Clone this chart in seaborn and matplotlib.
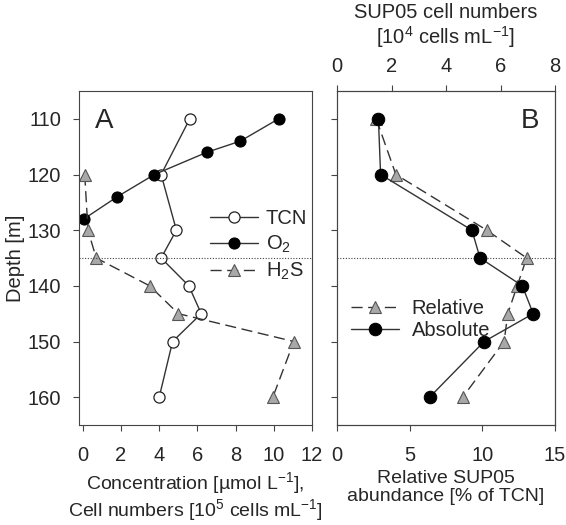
import matplotlib
matplotlib.use("Agg")
import matplotlib.pyplot as plt
import seaborn as sns
import pandas as pd

# ---- data ----
tcn_depth = [110, 120, 130, 135, 140, 145, 150, 160]
tcn_vals = [5.6, 4.1, 4.9, 4.1, 5.55, 6.2, 4.7, 4.0]
o2_depth = [110, 114, 116, 120, 124, 128]
o2_vals = [10.25, 8.25, 6.5, 3.75, 1.8, 0.05]
h2s_depth = [120, 130, 135, 140, 145, 150, 160]
h2s_vals = [0.1, 0.27, 0.7, 3.5, 5.0, 11.05, 9.95]
sup_depth = [110, 120, 130, 135, 140, 145, 150, 160]
rel_vals = [2.7, 4.05, 10.3, 13.05, 12.4, 11.75, 11.5, 8.65]
abs_vals = [1.52, 1.6, 4.95, 5.25, 6.8, 7.2, 5.4, 3.4]
redox_depth = 135

sns.set_style("ticks")
plt.rcParams["font.family"] = ["Liberation Sans", "DejaVu Sans"]
plt.rcParams["mathtext.fontset"] = "custom"
plt.rcParams["mathtext.rm"] = "Liberation Sans"
plt.rcParams["mathtext.it"] = "Liberation Sans:italic"
plt.rcParams["mathtext.bf"] = "Liberation Sans:bold"
plt.rcParams["xtick.direction"] = "out"
plt.rcParams["ytick.direction"] = "out"

fig = plt.figure(figsize=(5.66, 5.25), dpi=100)
axA = fig.add_axes([79/566, 100/525, 233/566, 334/525])
axB = fig.add_axes([337/566, 100/525, 218/566, 334/525])

lc = "#333333"
gray = "#a8a8a8"
fs = 14.5
lfs = 14

dfT = pd.DataFrame({"x": tcn_vals, "y": tcn_depth})
dfO = pd.DataFrame({"x": o2_vals, "y": o2_depth})
dfH = pd.DataFrame({"x": h2s_vals, "y": h2s_depth})

sns.lineplot(data=dfT, x="x", y="y", sort=False, estimator=None, ax=axA,
             color=lc, lw=1, marker="o", markersize=8, markerfacecolor="white",
             markeredgecolor="#222222", markeredgewidth=0.9, label="TCN")
sns.lineplot(data=dfO, x="x", y="y", sort=False, estimator=None, ax=axA,
             color=lc, lw=1, marker="o", markersize=8, markerfacecolor="black",
             markeredgecolor="black", label="O$_2$")
sns.lineplot(data=dfH, x="x", y="y", sort=False, estimator=None, ax=axA,
             color=lc, lw=1, dashes=(8, 4), marker="^", markersize=8,
             markerfacecolor=gray, markeredgecolor="#555555", markeredgewidth=0.8,
             label="H$_2$S")
axA.axhline(redox_depth, color="#444444", lw=0.8, ls=(0, (1, 1.5)))
axA.set_xlim(-0.2, 12)
axA.set_ylim(165, 105)
axA.set_xticks(range(0, 13, 2))
axA.set_yticks(range(110, 161, 10))
axA.set_ylabel("Depth [m]", fontsize=fs, labelpad=2)
axA.set_xlabel("Concentration [µmol L$^{-1}$],\nCell numbers [10$^5$ cells mL$^{-1}$]",
               fontsize=lfs, labelpad=4, linespacing=1.05)
axA.tick_params(labelsize=fs, length=4, width=0.8, color="#444444", pad=9)
axA.tick_params(axis="x", pad=11)
axA.text(0.07, 0.95, "A", transform=axA.transAxes, fontsize=20, va="top", ha="left")
axA.legend(loc="upper left", bbox_to_anchor=(0.5, 0.69), frameon=False,
           fontsize=fs, handlelength=2.4, handletextpad=0.4, labelspacing=0.3,
           borderaxespad=0.3)
for s in axA.spines.values():
    s.set_color("#444444"); s.set_linewidth(0.8)

dfR = pd.DataFrame({"x": rel_vals, "y": sup_depth})
dfA = pd.DataFrame({"x": abs_vals, "y": sup_depth})
axT = axB.twiny()
sns.lineplot(data=dfR, x="x", y="y", sort=False, estimator=None, ax=axB,
             color=lc, lw=1, dashes=(8, 4), marker="^", markersize=8,
             markerfacecolor=gray, markeredgecolor="#555555", markeredgewidth=0.8,
             legend=False)
sns.lineplot(data=dfA, x="x", y="y", sort=False, estimator=None, ax=axT,
             color=lc, lw=1, marker="o", markersize=9, markerfacecolor="black",
             markeredgecolor="black", legend=False)
axB.axhline(redox_depth, color="#444444", lw=0.8, ls=(0, (1, 1.5)))
axB.set_xlim(0, 15)
axT.set_xlim(0, 8)
axB.set_ylim(165, 105)
axT.set_ylim(165, 105)
axB.set_xticks([0, 5, 10, 15])
axT.set_xticks([0, 2, 4, 6, 8])
axB.set_yticks(range(110, 161, 10))
axB.set_yticklabels([])
axB.set_ylabel("")
axT.set_ylabel("")
axB.set_xlabel("Relative SUP05\nabundance [% of TCN]", fontsize=lfs, labelpad=4, linespacing=1.05)
axT.set_xlabel("SUP05 cell numbers\n[10$^4$ cells mL$^{-1}$]", fontsize=fs, labelpad=9, linespacing=1.15)
axB.tick_params(labelsize=fs, length=4, width=0.8, color="#444444", pad=11)
axT.tick_params(labelsize=fs, length=4, width=0.8, color="#444444", pad=7)
axB.text(0.93, 0.95, "B", transform=axB.transAxes, fontsize=20, va="top", ha="right")
lines_B = [axB.lines[0], axT.lines[0]]
axB.legend(lines_B, ["Relative", "Absolute"], loc="upper left",
           bbox_to_anchor=(0.0, 0.42), frameon=False, fontsize=fs,
           handlelength=2.4, handletextpad=0.6, labelspacing=0.15, borderaxespad=0.3)
for ax in (axB, axT):
    for s in ax.spines.values():
        s.set_color("#444444"); s.set_linewidth(0.8)

fig.savefig("out.png", dpi=100)
